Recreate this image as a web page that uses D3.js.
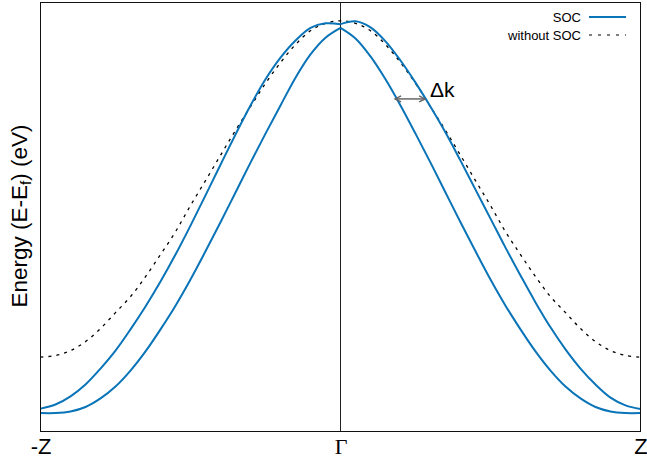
<!DOCTYPE html>
<html>
<head>
<meta charset="utf-8">
<script src="https://cdn.jsdelivr.net/npm/d3@7/dist/d3.min.js"></script>
<style>
  html, body { margin: 0; padding: 0; background: #fff; }
  svg { display: block; }
</style>
</head>
<body>
<svg id="chart" width="647" height="461"></svg>
<script>
// Crystal momentum along -Z → Γ → Z (fraction of the zone edge)
const kPoints = [
  -1.00, -0.95, -0.90, -0.85, -0.80, -0.75, -0.70, -0.65, -0.60, -0.55,
  -0.50, -0.45, -0.40, -0.35, -0.30, -0.25, -0.20, -0.15, -0.10, -0.05,
   0.00,
   0.05,  0.10,  0.15,  0.20,  0.25,  0.30,  0.35,  0.40,  0.45,  0.50,
   0.55,  0.60,  0.65,  0.70,  0.75,  0.80,  0.85,  0.90,  0.95,  1.00
];

// Spin-split band with the double maximum (outer branch), E - Ef in eV
const socOuter = [
  -0.944, -0.934, -0.914, -0.885, -0.846, -0.802, -0.750, -0.694, -0.633, -0.567,
  -0.496, -0.422, -0.347, -0.273, -0.202, -0.138, -0.085, -0.043, -0.012, -0.001,
  -0.003,
   0.004, -0.011, -0.045, -0.092, -0.146, -0.205, -0.268, -0.337, -0.408, -0.479,
  -0.550, -0.618, -0.684, -0.745, -0.799, -0.846, -0.885, -0.917, -0.936, -0.945
];

// Spin-split band with the cusp at Γ (inner branch)
const socInner = [
  -0.955, -0.955, -0.951, -0.940, -0.919, -0.890, -0.851, -0.804, -0.750, -0.692,
  -0.628, -0.559, -0.488, -0.415, -0.342, -0.271, -0.202, -0.134, -0.077, -0.036,
  -0.012,
  -0.038, -0.082, -0.138, -0.202, -0.271, -0.342, -0.415, -0.488, -0.559, -0.628,
  -0.692, -0.750, -0.804, -0.851, -0.890, -0.919, -0.940, -0.951, -0.955, -0.955
];

// Band computed without spin-orbit coupling
const noSoc = [
  -0.818, -0.814, -0.802, -0.780, -0.748, -0.709, -0.670, -0.621, -0.567, -0.511,
  -0.447, -0.386, -0.324, -0.263, -0.205, -0.148, -0.097, -0.053, -0.019, -0.001,
   0.005,
  -0.001, -0.019, -0.053, -0.097, -0.148, -0.205, -0.263, -0.324, -0.386, -0.447,
  -0.511, -0.567, -0.621, -0.670, -0.709, -0.748, -0.780, -0.802, -0.814, -0.818
];

// High-symmetry points on the k axis
const kTickValues = [-1, 0, 1];
const kTickLabels = ["-Z", "Γ", "Z"];

// Momentum splitting marker: energy and the two band crossings
const deltaKEnergy = -0.186;
const deltaKFrom = 0.182;
const deltaKTo = 0.282;

const legendLabels = ["SOC", "without SOC"];

const blue = "#0a74b8";

const svg = d3.select("#chart");
const plot = { left: 40.5, right: 640.5, top: 2.5, bottom: 431.5 };

const x = d3.scaleLinear().domain([-1, 1]).range([plot.left, plot.right]);
const y = d3.scaleLinear().domain([-1.0, 0.05]).range([plot.bottom, plot.top]);

svg.append("defs").append("clipPath").attr("id", "plotClip")
  .append("rect")
  .attr("x", plot.left).attr("y", plot.top)
  .attr("width", plot.right - plot.left).attr("height", plot.bottom - plot.top);

const line = d3.line()
  .x(d => x(d[0]))
  .y(d => y(d[1]))
  .curve(d3.curveCatmullRom.alpha(0.5));

const zip = vals => kPoints.map((k, i) => [k, vals[i]]);
const gammaIndex = kPoints.indexOf(0);

// Γ marker line
svg.append("line")
  .attr("x1", x(0)).attr("x2", x(0))
  .attr("y1", plot.top).attr("y2", plot.bottom)
  .attr("stroke", "#222").attr("stroke-width", 1);

const bands = svg.append("g").attr("clip-path", "url(#plotClip)");

bands.append("path")
  .datum(zip(noSoc))
  .attr("d", line)
  .attr("fill", "none")
  .attr("stroke", "#000")
  .attr("stroke-width", 1.3)
  .attr("stroke-dasharray", "3,5");

// SOC branches meet Γ with a kink, so each side is drawn as its own segment
[socOuter, socInner].forEach(vals => {
  const pts = zip(vals);
  [pts.slice(0, gammaIndex + 1), pts.slice(gammaIndex)].forEach(seg => {
    bands.append("path")
      .datum(seg)
      .attr("d", line)
      .attr("fill", "none")
      .attr("stroke", blue)
      .attr("stroke-width", 2)
      .attr("stroke-linejoin", "round");
  });
});

// Frame
svg.append("rect")
  .attr("x", plot.left).attr("y", plot.top)
  .attr("width", plot.right - plot.left).attr("height", plot.bottom - plot.top)
  .attr("fill", "none").attr("stroke", "#111").attr("stroke-width", 1);

// Bottom axis labels at the high-symmetry points
const xAxis = d3.axisBottom(x)
  .tickValues(kTickValues)
  .tickSize(0)
  .tickPadding(0)
  .tickFormat((d, i) => kTickLabels[i]);

const axisG = svg.append("g")
  .attr("transform", `translate(0,${plot.bottom})`)
  .call(xAxis);
axisG.select(".domain").remove();
axisG.selectAll("text")
  .attr("dy", null)
  .attr("y", 22)
  .attr("fill", "#000")
  .attr("font-family", (d, i) => i === 1 ? "Liberation Serif, DejaVu Serif, serif" : "Liberation Sans, Arial, sans-serif")
  .attr("font-size", 22);

// Y axis title with subscript f
const yTitle = svg.append("text")
  .attr("transform", `translate(27,216) rotate(-90)`)
  .attr("text-anchor", "middle")
  .attr("font-family", "Liberation Sans, Arial, sans-serif")
  .attr("font-size", 22.5)
  .attr("fill", "#000");
yTitle.append("tspan").text("Energy (E-E");
yTitle.append("tspan").attr("font-size", 15.5).attr("dy", 4).text("f");
yTitle.append("tspan").attr("dy", -4).text(") (eV)");

// Δk double arrow between the two spin branches
const arrowG = svg.append("g").attr("stroke", "#666").attr("stroke-width", 1.5).attr("fill", "none");
const ay = y(deltaKEnergy);
const ax0 = x(deltaKFrom), ax1 = x(deltaKTo);
arrowG.append("line").attr("x1", ax0).attr("x2", ax1).attr("y1", ay).attr("y2", ay);
arrowG.append("path").attr("d", `M${ax0 + 6},${ay - 3}L${ax0},${ay}L${ax0 + 6},${ay + 3}`);
arrowG.append("path").attr("d", `M${ax1 - 6},${ay - 3}L${ax1},${ay}L${ax1 - 6},${ay + 3}`);

svg.append("text")
  .attr("x", ax1 + 5).attr("y", ay - 2)
  .attr("font-family", "Liberation Sans, Arial, sans-serif")
  .attr("font-size", 21)
  .attr("fill", "#000")
  .text("Δk");

// Legend
const legend = svg.append("g")
  .attr("font-family", "Liberation Sans, Arial, sans-serif")
  .attr("font-size", 13);
legendLabels.forEach((label, i) => {
  const ly = 17 + i * 18;
  legend.append("text")
    .attr("x", 581).attr("y", ly + 4.5)
    .attr("text-anchor", "end")
    .attr("fill", "#000")
    .text(label);
  legend.append("line")
    .attr("x1", 589).attr("x2", 626)
    .attr("y1", ly).attr("y2", ly)
    .attr("stroke", i === 0 ? blue : "#000")
    .attr("stroke-width", i === 0 ? 2 : 1.2)
    .attr("stroke-dasharray", i === 0 ? null : "3,6");
});
</script>
</body>
</html>
